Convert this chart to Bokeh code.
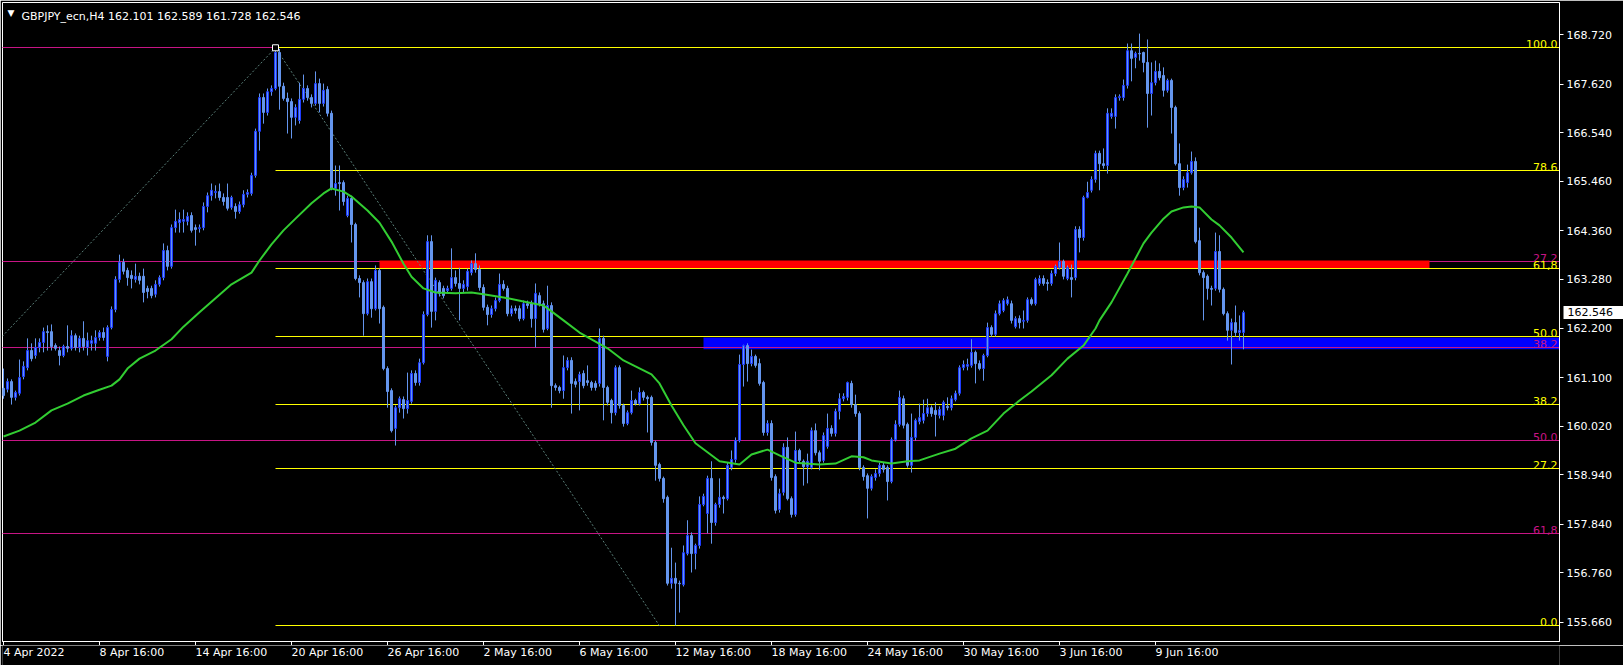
from bokeh.plotting import figure
from bokeh.layouts import column
from bokeh.models import Range1d, FixedTicker, Label, ColumnDataSource, PrintfTickFormatter, LinearAxis
from bokeh.embed import file_html
from bokeh.resources import INLINE
from bokeh.core.properties import value
import math

# ---------------- data (GBPJPY_ecn, H4) ----------------
opens = [
160.86,160.84,161.01,160.66,160.75,161.12,161.32,161.70,161.59,161.77,
161.88,162.12,162.12,161.81,161.70,161.59,161.79,161.75,162.03,161.77,
161.97,161.77,161.86,161.86,161.99,162.10,161.57,162.21,162.61,163.28,
163.66,163.48,163.37,163.28,163.35,163.35,163.08,163.08,162.95,163.17,
163.32,163.92,163.57,164.43,164.54,164.57,164.57,164.70,164.43,164.41,
164.43,164.90,165.14,165.21,165.23,165.10,165.10,164.88,164.90,164.79,
164.94,165.17,165.19,165.59,166.57,167.32,166.99,167.45,167.52,168.32,
167.57,167.30,167.23,166.88,166.81,167.28,167.52,167.32,167.19,167.63,
167.19,167.50,166.97,165.30,165.43,165.43,164.70,165.08,164.50,163.30,
163.21,162.52,163.23,162.63,163.48,162.66,161.30,160.81,159.97,160.43,
160.61,160.41,160.57,161.19,160.99,161.43,162.50,164.12,162.57,163.21,
163.08,163.03,163.08,163.32,163.19,163.08,163.12,163.43,163.63,163.50,
163.10,162.66,162.50,162.63,162.81,163.17,163.08,162.52,162.63,162.63,
162.41,162.74,162.74,162.41,162.92,162.74,162.19,162.70,160.92,160.88,
160.81,161.32,161.48,161.01,161.01,161.19,161.03,160.99,160.97,160.97,
161.97,160.88,160.59,160.32,161.32,160.48,160.08,160.32,160.59,160.52,
160.77,160.66,160.66,159.66,159.17,158.86,158.44,156.53,156.64,156.53,
156.50,157.19,157.59,157.19,157.37,158.28,158.08,158.86,157.88,158.28,
158.44,158.41,159.10,159.28,159.70,161.39,161.81,161.41,161.57,161.41,
160.99,159.88,160.08,158.90,158.17,158.55,159.55,158.41,158.06,159.48,
159.24,159.12,159.10,159.92,159.43,159.26,159.57,159.97,159.86,160.35,
160.63,160.66,160.97,160.50,160.30,159.10,158.92,158.64,158.88,158.97,
159.15,159.10,158.79,159.72,160.06,160.63,160.06,159.15,159.77,160.12,
160.15,160.30,160.43,160.37,160.26,160.26,160.46,160.43,160.61,160.75,
161.32,161.35,161.37,161.66,161.41,161.30,161.59,162.21,162.06,162.52,
162.59,162.74,162.74,162.23,162.41,162.35,162.37,162.83,162.74,163.19,
163.30,163.21,163.19,163.41,163.54,163.68,163.30,163.32,163.32,164.39,
164.21,165.10,165.26,165.50,166.08,165.85,165.81,166.90,166.90,167.32,
167.32,167.59,168.36,168.21,168.30,168.32,168.10,167.41,167.65,167.90,
167.81,167.48,167.70,167.10,165.85,165.32,165.43,165.65,165.90,164.14,
163.43,163.35,163.08,163.08,163.90,163.06,162.52,162.15,162.32,162.10,
162.101]

highs = [
161.30,161.08,161.06,160.81,161.50,161.46,161.97,161.86,161.97,161.97,
162.21,162.26,162.28,161.86,161.79,161.83,162.26,162.15,162.08,162.03,
162.35,162.10,162.03,162.15,162.15,162.21,162.26,162.68,163.35,163.83,
163.74,163.54,163.48,163.63,163.43,163.52,163.14,163.14,163.26,163.37,
164.08,164.03,164.50,164.83,164.77,164.83,164.77,164.77,164.50,164.50,
164.99,165.21,165.41,165.37,165.41,165.19,165.41,165.14,164.97,165.01,
165.26,165.28,165.65,166.63,167.41,167.41,167.52,167.59,168.43,168.40,
167.65,167.43,167.30,167.17,167.65,167.83,167.59,167.39,167.90,167.74,
167.63,167.57,167.03,165.81,165.81,165.48,165.14,165.14,164.54,163.37,
163.26,163.30,163.30,163.59,163.52,162.70,161.35,160.86,160.48,160.68,
160.68,161.21,161.26,161.26,161.52,162.57,164.26,164.26,163.32,163.26,
163.14,163.14,163.97,163.48,163.54,163.26,163.52,163.70,163.86,163.59,
163.17,162.72,162.70,162.88,163.41,163.26,163.14,162.70,162.70,162.70,
162.81,162.81,162.81,163.19,162.99,162.81,163.14,162.77,160.97,160.92,
161.59,161.55,161.55,161.08,161.23,161.26,161.37,161.03,161.03,162.19,
162.03,160.92,160.63,161.37,161.37,160.52,160.37,160.81,160.63,160.88,
160.81,160.70,160.70,159.70,159.21,158.90,158.48,157.32,156.99,156.59,
157.37,157.93,157.66,157.41,158.46,158.52,158.92,159.24,158.32,158.86,
158.48,159.21,159.48,159.77,161.61,161.83,161.86,161.72,161.61,161.52,
161.03,160.15,160.15,158.95,158.63,159.64,159.77,158.46,159.90,159.52,
159.28,159.41,159.99,160.08,159.48,159.88,160.30,160.04,160.41,160.75,
160.75,161.01,161.03,160.72,160.35,159.15,158.97,158.95,159.06,159.21,
159.21,159.15,159.77,160.15,160.81,160.70,160.10,160.30,160.19,160.52,
160.61,160.63,160.48,160.55,160.46,160.59,160.66,160.70,160.81,161.37,
161.48,161.52,161.95,161.70,161.48,161.63,162.32,162.26,162.59,162.81,
162.86,162.90,162.81,162.46,162.48,162.59,162.88,162.88,163.32,163.37,
163.37,163.28,163.48,163.61,164.10,163.72,163.59,163.61,164.46,164.46,
165.14,165.45,165.57,166.14,166.14,166.19,167.08,167.08,167.39,167.39,
167.72,168.52,168.52,168.34,168.74,168.34,168.61,168.10,168.14,168.08,
167.99,167.74,167.74,167.14,166.30,165.57,165.83,166.12,165.99,164.43,
163.48,163.39,163.14,164.32,164.26,163.10,162.57,162.41,162.70,162.48,
162.589]

lows = [
160.63,160.77,160.50,160.59,160.70,161.06,161.26,161.46,161.52,161.66,
161.66,161.70,161.70,161.70,161.37,161.55,161.66,161.70,161.70,161.66,
161.70,161.59,161.70,161.70,161.92,161.92,161.46,162.17,162.55,163.21,
163.39,163.14,163.08,163.21,163.17,162.77,162.86,162.86,162.88,163.12,
163.26,163.48,163.52,164.32,164.32,164.32,164.48,164.32,164.03,164.32,
164.37,164.77,165.03,165.08,165.03,164.92,164.81,164.83,164.63,164.74,
164.88,165.10,165.14,165.54,166.14,166.74,166.92,167.36,167.48,167.05,
167.25,166.52,166.41,166.70,166.74,167.21,167.25,167.10,167.14,166.99,
167.12,166.90,165.26,165.14,164.81,164.92,164.66,164.10,163.26,162.88,
162.03,162.48,162.43,162.59,162.30,161.26,160.43,159.88,159.59,160.32,
160.19,160.30,160.52,160.92,160.92,161.39,162.46,162.21,162.37,162.90,
162.86,162.97,163.03,163.12,162.37,162.99,163.03,163.37,163.43,163.03,
162.59,162.26,162.43,162.57,162.77,163.03,162.46,162.46,162.52,162.35,
162.37,162.63,162.21,161.77,162.68,162.10,162.15,160.43,160.81,160.75,
160.63,161.26,160.30,160.88,160.37,160.86,160.92,160.81,160.81,160.90,
160.15,160.48,160.08,160.26,160.41,160.01,160.04,160.28,160.48,160.48,
160.59,159.88,159.59,158.81,158.79,158.32,156.48,156.41,155.59,155.88,
156.46,157.15,156.77,156.84,157.30,158.24,157.64,157.41,157.81,158.21,
158.08,158.37,159.04,159.21,159.66,160.90,161.01,161.35,161.32,160.92,
159.81,159.81,158.81,158.08,158.10,158.48,158.37,157.99,158.01,159.21,
158.70,158.75,159.06,159.37,159.04,159.21,159.52,159.79,159.79,160.17,
160.57,160.59,160.43,160.23,159.04,158.81,157.97,158.59,158.81,158.90,
158.99,158.37,158.75,159.68,160.01,159.97,159.10,158.99,159.70,160.06,
160.08,160.23,160.23,159.79,160.19,160.15,160.37,160.37,160.57,160.70,
161.26,161.26,161.32,160.97,161.26,161.03,161.55,162.01,162.01,162.48,
162.55,162.70,162.30,162.19,162.19,162.19,162.32,162.70,162.70,163.14,
163.14,163.03,163.14,163.35,163.50,163.28,163.26,162.88,163.26,163.88,
164.14,165.08,165.21,165.43,165.26,165.74,165.63,166.85,166.63,167.25,
167.25,167.52,167.68,167.97,168.14,167.88,166.65,166.92,167.59,167.70,
167.34,167.43,166.52,165.81,165.14,165.26,165.32,165.61,164.08,163.37,
162.37,162.83,162.70,163.03,162.99,162.48,161.92,161.39,162.01,161.92,
161.728]

closes = [
160.70,161.01,160.66,160.77,161.10,161.35,161.70,161.52,161.77,161.88,
162.12,162.10,161.79,161.75,161.59,161.79,161.75,162.03,161.77,161.97,
161.79,161.92,161.92,161.99,162.10,161.99,162.21,162.61,163.28,163.66,
163.46,163.32,163.30,163.35,163.26,162.99,163.01,162.92,163.17,163.32,
163.92,163.57,164.43,164.57,164.61,164.61,164.68,164.37,164.39,164.43,
164.90,165.14,165.26,165.23,165.10,165.01,164.86,165.10,164.79,164.94,
165.17,165.21,165.59,166.57,167.32,166.99,167.45,167.52,168.32,167.57,
167.30,167.23,166.88,167.10,167.28,167.52,167.32,167.19,167.63,167.19,
167.48,166.97,165.30,165.41,165.41,165.01,165.08,164.50,163.30,163.21,
162.52,163.23,162.63,163.48,162.63,161.30,160.79,159.92,160.43,160.63,
160.41,160.59,161.19,160.99,161.43,162.50,164.12,162.57,163.26,162.97,
162.92,163.08,163.32,163.19,163.08,163.17,163.46,163.63,163.50,163.10,
162.66,162.50,162.63,162.81,163.17,163.08,162.52,162.63,162.59,162.41,
162.74,162.70,162.41,162.97,162.74,162.17,162.70,160.92,160.88,160.81,
161.32,161.48,160.97,160.95,161.17,160.92,160.99,160.88,160.88,161.97,
160.88,160.55,160.32,161.32,160.48,160.08,160.32,160.59,160.52,160.77,
160.66,160.63,159.66,159.15,158.86,158.41,156.53,156.64,156.53,156.52,
157.21,157.59,157.19,157.37,158.28,158.46,158.86,157.88,158.28,158.44,
158.41,159.15,159.28,159.70,161.39,161.81,161.41,161.57,161.37,160.97,
159.88,160.08,158.88,158.15,158.52,159.55,158.41,158.06,159.48,159.26,
159.12,159.24,159.92,159.43,159.24,159.81,159.97,159.86,160.35,160.63,
160.68,160.99,160.50,160.30,159.10,158.90,158.64,158.90,158.97,159.15,
159.06,158.79,159.72,160.06,160.66,160.04,159.15,159.77,160.15,160.21,
160.30,160.43,160.30,160.28,160.39,160.55,160.43,160.63,160.75,161.32,
161.39,161.39,161.66,161.41,161.30,161.59,162.21,162.06,162.52,162.74,
162.81,162.83,162.37,162.41,162.32,162.37,162.83,162.74,163.28,163.30,
163.19,163.19,163.41,163.57,163.68,163.35,163.54,163.28,164.39,164.21,
165.10,165.21,165.50,166.08,165.85,165.81,166.97,166.97,167.32,167.34,
167.59,168.36,168.19,168.30,168.29,168.10,167.41,167.65,167.90,167.76,
167.48,167.70,167.10,165.85,165.32,165.50,165.65,165.90,164.12,163.43,
163.32,163.08,163.06,163.90,163.06,162.52,162.15,162.32,162.10,162.15,
162.546]

# moving average (bar index, price)
ma_idx = [0,4,8,12,16,20,24,27,29,31,34,38,42,45,49,53,57,62,64,67,70,73,77,80,82,85,87,91,94,97,
          100,102,105,108,113,117,120,125,130,135,137,140,144,147,151,155,158,162,164,167,170,173,176,179,
          184,187,191,194,198,204,208,212,215,217,222,226,229,234,238,242,246,250,254,257,262,266,270,273,
          274,277,281,285,287,290,292,295,297,299,302,304,307,310]
ma_val = [159.79,159.92,160.10,160.37,160.52,160.70,160.83,160.92,161.06,161.30,161.52,161.70,161.95,162.23,
          162.55,162.86,163.17,163.43,163.70,164.06,164.37,164.63,164.97,165.19,165.30,165.23,165.12,164.81,
          164.54,164.12,163.63,163.34,163.08,162.99,162.97,162.99,162.95,162.88,162.79,162.70,162.57,162.37,
          162.10,161.95,161.75,161.48,161.35,161.17,160.97,160.48,160.04,159.64,159.44,159.24,159.17,159.39,
          159.50,159.37,159.21,159.17,159.19,159.35,159.33,159.26,159.19,159.24,159.26,159.41,159.52,159.75,
          159.92,160.30,160.59,160.79,161.15,161.52,161.81,162.19,162.37,162.77,163.41,164.08,164.32,164.63,
          164.79,164.88,164.90,164.88,164.61,164.48,164.21,163.88]

date_ticks = [0, 24, 48, 72, 96, 120, 144, 168, 192, 216, 240, 264, 288]
date_labels = ["4 Apr 2022", "8 Apr 16:00", "14 Apr 16:00", "20 Apr 16:00", "26 Apr 16:00",
               "2 May 16:00", "6 May 16:00", "12 May 16:00", "18 May 16:00", "24 May 16:00",
               "30 May 16:00", "3 Jun 16:00", "9 Jun 16:00"]
price_ticks = [168.720, 167.620, 166.540, 165.460, 164.360, 163.280, 162.200,
               161.100, 160.020, 158.940, 157.840, 156.760, 155.660]

# Fibonacci objects
yel_hi, yel_lo, yel_start, yel_low_idx = 168.425, 155.586, 68, 164
yel_levels = [0.0, 27.2, 38.2, 50.0, 61.8, 78.6, 100.0]
yel_texts = ["0.0", "27.2", "38.2", "50.0", "61,8", "78.6", "100.0"]
mag_hi, mag_lo = 168.42, 150.97
mag_levels = [0.0, 27.2, 38.2, 50.0, 61.8]
mag_texts = ["", "27.2", "38.2", "50.0", "61,8"]
trend1_x, trend1_y = [-1, 68], [161.95, 168.425]

# rectangles
red_rect = dict(left=94, right=356.5, bottom=163.52, top=163.70)
blue_rect = dict(left=175, right=420, bottom=161.73, top=161.99)

title_text = "GBPJPY_ecn,H4  162.101 162.589 161.728 162.546"
last_price = 162.546

# ---------------- styling ----------------
FONT = "DejaVu Sans"
FS = "11px"
CANDLE = "#6495ED"
BULL_EDGE = "#1E3CFF"
YELLOW = "#FFFF00"
MAGENTA = "#C71585"
GREEN = "#32CD32"
DOT = "#5B807A"

FRAME_W, FRAME_H, TOP = 1557, 639, 2
X0 = -0.25
X1 = X0 + FRAME_W / 4.0
Y0, Y1 = 155.237, 169.431
KPX = FRAME_H / (Y1 - Y0)


def crisp(price):
    """put a 1px horizontal line on a whole pixel row (rendering only)"""
    row = math.floor(TOP + (Y1 - price) * KPX)
    return Y1 - (row - TOP) / KPX


p = figure(frame_width=FRAME_W, frame_height=FRAME_H,
           x_range=Range1d(X0, X1), y_range=Range1d(Y0, Y1),
           output_backend="svg", toolbar_location=None,
           x_axis_location="below", y_axis_location="right",
           background_fill_color="black", border_fill_color="black",
           outline_line_color="white", outline_line_width=1,
           min_border_left=2, min_border_top=TOP, min_border_right=64, min_border_bottom=0)
p.grid.visible = False

xa = p.xaxis[0]
xa.ticker = FixedTicker(ticks=date_ticks)
xa.axis_line_color = "white"
xa.major_tick_line_color = "white"
xa.major_tick_out = 4
xa.major_tick_in = 0
xa.minor_tick_line_color = None
xa.major_label_text_font_size = "0px"
xa.major_label_standoff = 0
xa.major_label_overrides = {t: "" for t in date_ticks}

ya = p.yaxis[0]
ya.ticker = FixedTicker(ticks=price_ticks)
ya.formatter = PrintfTickFormatter(format="%.3f")
ya.axis_line_color = "white"
ya.major_tick_line_color = "white"
ya.major_tick_out = 4
ya.major_tick_in = 0
ya.minor_tick_line_color = None
ya.major_label_text_color = "white"
ya.major_label_text_font = FONT
ya.major_label_text_font_size = FS
ya.major_label_standoff = 3

# current-price tag on the price scale
tag_axis = LinearAxis(ticker=FixedTicker(ticks=[last_price]),
                      formatter=PrintfTickFormatter(format="%.3f"),
                      axis_line_color=None, minor_tick_line_color=None,
                      major_tick_line_color="white", major_tick_line_width=13,
                      major_tick_in=51, major_tick_out=10,
                      major_label_text_color="black", major_label_text_font=FONT,
                      major_label_text_font_size=FS, major_label_standoff=-57)
p.add_layout(tag_axis, "right")

# blue rectangle (behind magenta fib)
p.quad(left=[blue_rect["left"]], right=[blue_rect["right"]], bottom=[blue_rect["bottom"]],
       top=[blue_rect["top"]], fill_color="#0000FF", line_color=None)

# magenta fib
mag_prices = [crisp(mag_hi - lv / 100.0 * (mag_hi - mag_lo)) for lv in mag_levels]
p.segment(x0=[X0 - 5] * len(mag_prices), x1=[X1 + 5] * len(mag_prices), y0=mag_prices, y1=mag_prices,
          line_color=MAGENTA, line_width=1)

# red rectangle
p.quad(left=[red_rect["left"]], right=[red_rect["right"]], bottom=[red_rect["bottom"]],
       top=[red_rect["top"]], fill_color="#FF0000", line_color=None)

# yellow fib
yel_prices = [crisp(yel_lo + lv / 100.0 * (yel_hi - yel_lo)) for lv in yel_levels]
p.segment(x0=[yel_start] * len(yel_prices), x1=[X1 + 5] * len(yel_prices), y0=yel_prices, y1=yel_prices,
          line_color=YELLOW, line_width=1)

# fib labels
LX = X1 - 0.5
p.text(x=[LX] * len(mag_prices), y=mag_prices, text=mag_texts, text_color=MAGENTA,
       text_font=value(FONT), text_font_size=FS, text_align="right", text_baseline="bottom")
p.text(x=[LX] * len(yel_prices), y=yel_prices, text=yel_texts, text_color=YELLOW,
       text_font=value(FONT), text_font_size=FS, text_align="right", text_baseline="bottom")

# trend lines of the fib objects
p.line(trend1_x, trend1_y, line_color=DOT, line_width=1, line_dash="2 2")
p.line([yel_start, yel_low_idx], [yel_hi, yel_lo], line_color=DOT, line_width=1, line_dash="2 2")

# candles
idx = list(range(len(closes)))
bull = [c >= o for o, c in zip(opens, closes)]
src = ColumnDataSource(dict(
    x=idx, h=highs, l=lows,
    top=[max(o, c) for o, c in zip(opens, closes)],
    bot=[min(o, c) for o, c in zip(opens, closes)],
    lc=[BULL_EDGE if b else CANDLE for b in bull],
))
p.segment(x0="x", y0="h", x1="x", y1="l", source=src, line_color=CANDLE, line_width=1)
p.vbar(x="x", width=0.5, top="top", bottom="bot", source=src,
       fill_color=CANDLE, line_color="lc", line_width=1)

# moving average
p.line(ma_idx, ma_val, line_color=GREEN, line_width=2)

# anchor marker at the high
p.scatter([yel_start], [yel_hi], marker="square", size=6, fill_color="black", line_color="white")

# title
p.add_layout(Label(x=5, y=FRAME_H - 10.4, x_units="screen", y_units="screen", text="\u25BC",
                   text_color="white", text_font="DejaVu Sans", text_font_size="9px",
                   text_baseline="middle"))
p.add_layout(Label(x=19, y=FRAME_H - 14.3, x_units="screen", y_units="screen", text=title_text,
                   text_color="white", text_font=FONT, text_font_size=FS,
                   text_baseline="alphabetic"))

# date labels (left-aligned at their ticks, as on the MT4 time scale)
q = figure(frame_width=FRAME_W, frame_height=20, x_range=p.x_range, y_range=Range1d(0, 1),
           output_backend="svg", toolbar_location=None,
           x_axis_location=None, y_axis_location=None,
           background_fill_color="black", border_fill_color="black", outline_line_color=None,
           min_border_left=2, min_border_top=0, min_border_right=64, min_border_bottom=0)
q.grid.visible = False
q.text(x=date_ticks, y=[1.0] * len(date_ticks), text=date_labels, text_color="white",
       text_font=value(FONT), text_font_size=FS, text_align="left", text_baseline="top")

layout = column(p, q, spacing=0)
open("out.html", "w").write(file_html(layout, INLINE))
